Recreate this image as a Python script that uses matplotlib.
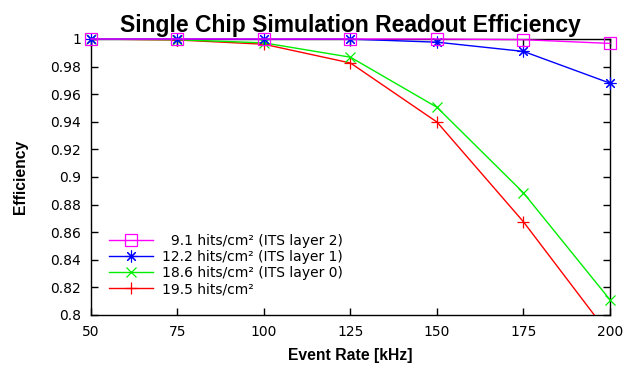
import matplotlib
matplotlib.use("Agg")
import matplotlib.pyplot as plt

rates = [50, 75, 100, 125, 150, 175, 200]
eff_l2 = [1.0, 1.0, 1.0, 1.0, 1.0, 0.9995, 0.9968]
eff_l1 = [1.0, 1.0, 0.9999, 0.9999, 0.9977, 0.991, 0.968]
eff_l0 = [1.0, 0.9995, 0.9972, 0.9868, 0.9505, 0.8885, 0.811]
eff_195 = [1.0, 0.9993, 0.9962, 0.9826, 0.9398, 0.8675, 0.785]
labels = ["\u20079.1 hits/cm\u00b2 (ITS layer 2)",
          "12.2 hits/cm\u00b2 (ITS layer 1)",
          "18.6 hits/cm\u00b2 (ITS layer 0)",
          "19.5 hits/cm\u00b2"]
xticks = [50, 75, 100, 125, 150, 175, 200]
yticks = [0.8, 0.82, 0.84, 0.86, 0.88, 0.9, 0.92, 0.94, 0.96, 0.98, 1.0]
ytick_labels = ["0.8", "0.82", "0.84", "0.86", "0.88", "0.9", "0.92", "0.94", "0.96", "0.98", "1"]

fig = plt.figure(figsize=(6.3, 3.69), dpi=100)
ax = fig.add_axes([91/630, 1-315/369, (610-91)/630, (315-39)/369])

lw = 1.0
ax.plot(rates, eff_195, color="#ff0000", lw=lw, marker="+", ms=8.5, mew=0.9, label=labels[3], clip_on=True, zorder=3)
ax.plot(rates, eff_l0, color="#00ee00", lw=lw, marker="x", ms=7.5, mew=0.9, label=labels[2], clip_on=False, zorder=4)
ax.plot(rates, eff_l1, color="#0000ff", lw=lw, marker=(8, 2, 0), ms=8.5, mew=0.8, label=labels[1], clip_on=False, zorder=5)
ax.plot(rates, eff_l2, color="#ff00ff", lw=lw, marker="s", ms=8, mew=0.9, mfc="none", label=labels[0], clip_on=False, zorder=6)

ax.set_xlim(50, 200)
ax.set_ylim(0.8, 1.0)
ax.set_xticks(xticks)
ax.set_xticklabels([str(x) for x in xticks])
ax.set_yticks(yticks)
ax.set_yticklabels(ytick_labels)
ax.tick_params(direction="in", length=5, width=1, top=True, right=True, labelsize=10, pad=7, colors="black")
for sp in ax.spines.values():
    sp.set_linewidth(1.0)

ax.set_title("Single Chip Simulation Readout Efficiency", fontsize=16.5, fontweight="bold",
             family="Liberation Sans", pad=5)
ax.set_xlabel("Event Rate [kHz]", fontsize=11.3, fontweight="bold", family="Liberation Sans", labelpad=7)
ax.set_ylabel("Efficiency", fontsize=11.3, fontweight="bold", family="Liberation Sans", labelpad=16)

handles, labs = ax.get_legend_handles_labels()
order = [3, 2, 1, 0]
leg = ax.legend([handles[i] for i in order], [labs[i] for i in order], loc="lower left",
                bbox_to_anchor=(0.029, 0.058), frameon=False, fontsize=10, handlelength=3.2,
                labelspacing=0.15, handletextpad=0.65, borderpad=0.2, borderaxespad=0.0)

fig.savefig("out.png", dpi=100)
